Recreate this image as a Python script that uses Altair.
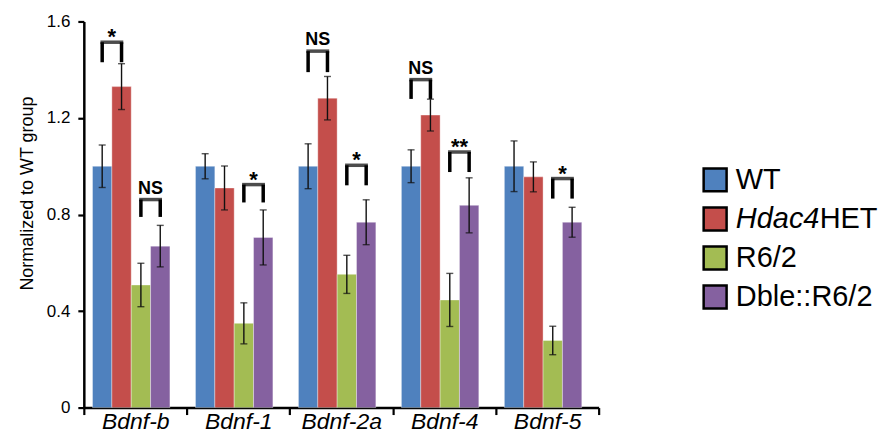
import altair as alt
import pandas as pd

FONT = "Liberation Sans"

genes = ["Bdnf-b", "Bdnf-1", "Bdnf-2a", "Bdnf-4", "Bdnf-5"]
groups = ["WT", "Hdac4HET", "R6/2", "Dble::R6/2"]
colors = ["#4F81BE", "#C44E4B", "#A3BC53", "#8561A0"]

wt = [1.0, 1.0, 1.0, 1.0, 1.0]
wt_err = [0.088, 0.052, 0.093, 0.068, 0.105]
hdac4 = [1.330, 0.910, 1.282, 1.212, 0.956]
hdac4_err = [0.095, 0.091, 0.090, 0.066, 0.062]
r62 = [0.508, 0.349, 0.552, 0.446, 0.278]
r62_err = [0.090, 0.085, 0.079, 0.110, 0.059]
dble = [0.669, 0.705, 0.768, 0.838, 0.768]
dble_err = [0.086, 0.114, 0.093, 0.114, 0.062]

# significance brackets
sig_gene = ["Bdnf-b", "Bdnf-b", "Bdnf-1", "Bdnf-2a", "Bdnf-2a", "Bdnf-4", "Bdnf-4", "Bdnf-5"]
sig_left = ["WT", "R6/2", "R6/2", "WT", "R6/2", "WT", "R6/2", "R6/2"]
sig_right = ["Hdac4HET", "Dble::R6/2", "Dble::R6/2", "Hdac4HET", "Dble::R6/2", "Hdac4HET", "Dble::R6/2", "Dble::R6/2"]
sig_top = [1.514, 0.862, 0.924, 1.477, 1.004, 1.359, 1.059, 0.949]
sig_bottom = [1.431, 0.790, 0.850, 1.390, 0.921, 1.279, 0.976, 0.866]
sig_label = ["*", "NS", "*", "NS", "*", "NS", "**", "*"]

y_ticks = [0, 0.4, 0.8, 1.2, 1.6]

# legend text pieces
legend_italic = ["", "Hdac4", "", ""]
legend_plain = ["WT", "HET", "R6/2", "Dble::R6/2"]

# ---------------- layout parameters ----------------
W, H = 516, 387
BAR_PO, BAR_ALIGN = 0.66, 0.34
cat_w = W / len(genes)
bar_step = cat_w / (len(groups) + 2 * BAR_PO)
# slots centred on the boundaries between neighbouring bars
pairs = [f"{groups[i]}|{groups[i+1]}" for i in range(len(groups) - 1)] + [f"{groups[-1]}|"]
PAIR_PO = BAR_PO
PAIR_ALIGN = BAR_ALIGN + 1 / (4 * BAR_PO)
LEG_W = 3.5

# legend rows: first row centre (px below plot top) and row step (px)
LEG_FIRST, LEG_STEP = 158.8, 39.1

# ---------------- tables ----------------
series = {"WT": (wt, wt_err), "Hdac4HET": (hdac4, hdac4_err),
          "R6/2": (r62, r62_err), "Dble::R6/2": (dble, dble_err)}
rows = []
for g in groups:
    vals, errs = series[g]
    for gene, v, e in zip(genes, vals, errs):
        rows.append({"gene": gene, "group": g, "value": v, "lo": v - e, "hi": v + e})
bars_df = pd.DataFrame(rows)

leg_rows, top_rows = [], []
for gene, l, r, t, b, lab in zip(sig_gene, sig_left, sig_right, sig_top, sig_bottom, sig_label):
    leg_rows.append({"gene": gene, "group": l, "top": t, "bottom": b})
    leg_rows.append({"gene": gene, "group": r, "top": t, "bottom": b})
    top_rows.append({"gene": gene, "pair": f"{l}|{r}", "top": t, "label": lab})
legs_df = pd.DataFrame(leg_rows)
tops_df = pd.DataFrame(top_rows)

legend_df = pd.DataFrame({"group": groups, "row": list(range(len(groups))),
                          "italic": legend_italic, "plain": legend_plain})

# ---------------- encodings ----------------
x_axis = alt.Axis(title=None, tickBand="extent", labelFontStyle="italic", labelFontSize=23,
                  labelAngle=0, labelPadding=-4, tickSize=7, tickWidth=2.2, domainWidth=2.5,
                  domainColor="black", tickColor="black", labelColor="black", labelFont=FONT)
X = alt.X("gene:N", sort=genes,
          scale=alt.Scale(type="band", domain=genes, paddingInner=0, paddingOuter=0), axis=x_axis)

y_axis = alt.Axis(title="Normalized to WT group", values=y_ticks,
                  labelExpr="datum.value == 0 ? '0' : format(datum.value, '.1f')",
                  grid=False, tickSize=6, tickWidth=2.2, domainWidth=2.5, domainColor="black",
                  tickColor="black", labelColor="black", labelFontSize=17, labelFont=FONT,
                  labelPadding=8, titleFont=FONT, titleFontSize=18, titleFontWeight="normal",
                  titleColor="black", titlePadding=10, titleY=172)
y_scale = alt.Scale(domain=[0, 1.6], nice=False)


def Y(field):
    return alt.Y(f"{field}:Q", scale=y_scale, axis=y_axis)


XO_bar = alt.XOffset("group:N", sort=groups,
                     scale=alt.Scale(type="band", domain=groups, paddingInner=0,
                                     paddingOuter=BAR_PO, align=BAR_ALIGN))
XO_pair = alt.XOffset("pair:N", sort=pairs,
                      scale=alt.Scale(type="band", domain=pairs, paddingInner=0,
                                      paddingOuter=PAIR_PO, align=PAIR_ALIGN))

bars = alt.Chart(bars_df).mark_bar(stroke="white", strokeWidth=0.8, strokeOpacity=0.45).encode(
    x=X, xOffset=XO_bar, y=Y("value"),
    color=alt.Color("group:N", scale=alt.Scale(domain=groups, range=colors), legend=None),
)
err = alt.Chart(bars_df).mark_rule(color="#111", strokeWidth=1.4).encode(
    x=X, xOffset=XO_bar, y=Y("lo"), y2="hi:Q")
cap_lo = alt.Chart(bars_df).mark_tick(color="#111", thickness=1.4, size=7).encode(
    x=X, xOffset=XO_bar, y=Y("lo"))
cap_hi = alt.Chart(bars_df).mark_tick(color="#111", thickness=1.4, size=7).encode(
    x=X, xOffset=XO_bar, y=Y("hi"))
legs = alt.Chart(legs_df).mark_rule(color="black", strokeWidth=LEG_W).encode(
    x=X, xOffset=XO_bar, y=Y("bottom"), y2="top:Q")
tops = alt.Chart(tops_df).mark_tick(color="black", thickness=LEG_W, size=bar_step + LEG_W).encode(
    x=X, xOffset=XO_pair, y=Y("top"))
ns_text = alt.Chart(tops_df).transform_filter("datum.label == 'NS'").mark_text(
    font=FONT, fontSize=18, fontWeight="bold", baseline="alphabetic", dy=-6, color="black"
).encode(x=X, xOffset=XO_pair, y=Y("top"), text="label:N")
star_text = alt.Chart(tops_df).transform_filter("datum.label != 'NS'").mark_text(
    font=FONT, fontSize=22, fontWeight="bold", baseline="alphabetic", dy=2, color="black"
).encode(x=X, xOffset=XO_pair, y=Y("top"), text="label:N")

main = alt.layer(bars, err, cap_lo, cap_hi, legs, tops, ns_text, star_text).resolve_scale(
    xOffset="independent").properties(width=W, height=H)

# ---------------- legend ----------------
Yl = alt.Y("row:Q", axis=None,
           scale=alt.Scale(domain=[-LEG_FIRST / LEG_STEP, (H - LEG_FIRST) / LEG_STEP],
                           reverse=True, nice=False, zero=False))
swatch = alt.Chart(legend_df).mark_square(size=23 * 23, stroke="black", strokeWidth=2.5, opacity=1).encode(
    x=alt.value(12.75), y=Yl,
    fill=alt.Fill("group:N", scale=alt.Scale(domain=groups, range=colors), legend=None))
plain = alt.Chart(legend_df).transform_filter("datum.italic == ''").mark_text(
    font=FONT, fontSize=29, align="left", baseline="middle", color="black").encode(
    x=alt.value(33.5), y=Yl, text="plain:N")
ital = alt.Chart(legend_df).transform_filter("datum.italic != ''").mark_text(
    font=FONT, fontSize=29, fontStyle="italic", align="left", baseline="middle", color="black").encode(
    x=alt.value(33.5), y=Yl, text="italic:N")
ital_rest = alt.Chart(legend_df).transform_filter("datum.italic != ''").mark_text(
    font=FONT, fontSize=29, align="left", baseline="middle", color="black", dx=84).encode(
    x=alt.value(33.5), y=Yl, text="plain:N")
legend = alt.layer(swatch, plain, ital, ital_rest).properties(width=170, height=H)

chart = alt.hconcat(main, legend, spacing=104, bounds="flush").properties(
    padding={"left": 10, "top": 4, "right": 0, "bottom": 0}, background="white"
).configure_view(stroke=None)

chart.save("out.html", embed_options={"renderer": "svg", "actions": False})
